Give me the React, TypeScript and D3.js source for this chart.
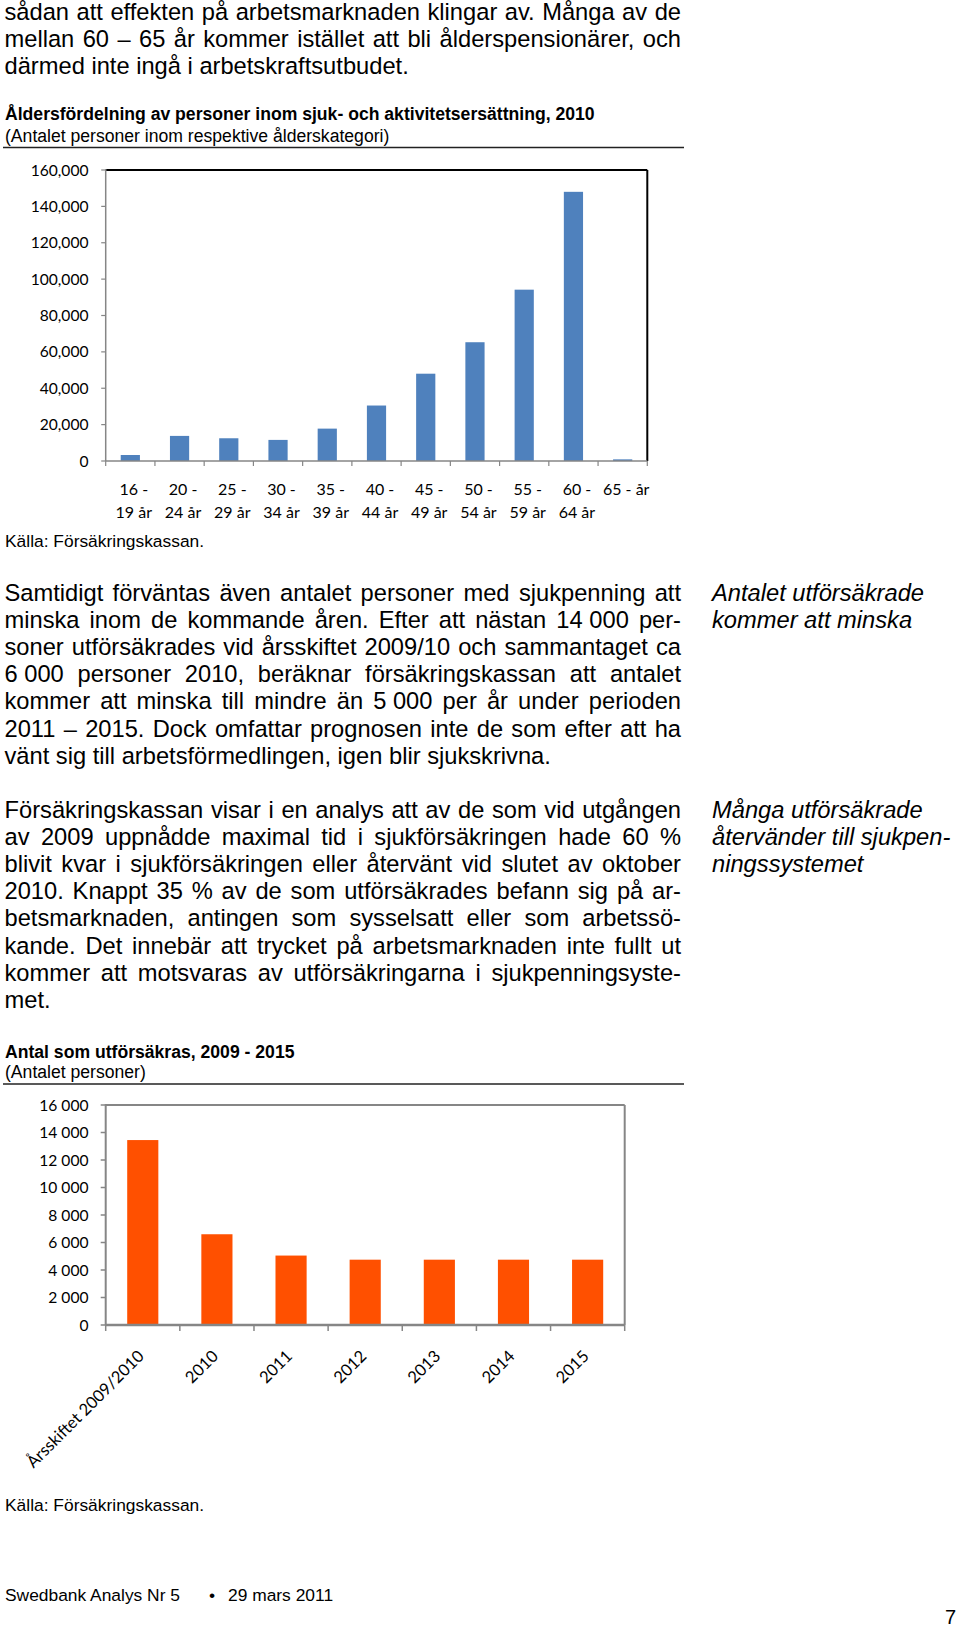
import React from 'react';
import * as d3 from 'd3';

// ---------- Data ----------
const ageCategories = ["16 - 19 år", "20 - 24 år", "25 - 29 år", "30 - 34 år", "35 - 39 år", "40 - 44 år", "45 - 49 år", "50 - 54 år", "55 - 59 år", "60 - 64 år", "65 - år"];
const ageLabelTop = ["16 -", "20 -", "25 -", "30 -", "35 -", "40 -", "45 -", "50 -", "55 -", "60 -", "65 - år"];
const ageLabelBottom = ["19 år", "24 år", "29 år", "34 år", "39 år", "44 år", "49 år", "54 år", "59 år", "64 år", ""];
const ageValues = [3300, 13800, 12500, 11600, 17800, 30500, 48000, 65300, 94200, 148000, 900];
const ageTicks = [0, 20000, 40000, 60000, 80000, 100000, 120000, 140000, 160000];

const yearCategories = ["Årsskiftet 2009/2010", "2010", "2011", "2012", "2013", "2014", "2015"];
const yearValues = [13450, 6600, 5050, 4750, 4750, 4750, 4750];
const yearTicks = [0, 2000, 4000, 6000, 8000, 10000, 12000, 14000, 16000];

const introLines = [
  "sådan att effekten på arbetsmarknaden klingar av. Många av de",
  "mellan 60 – 65 år kommer istället att bli ålderspensionärer, och",
  "därmed inte ingå i arbetskraftsutbudet.",
];
const para1Lines = [
  "Samtidigt förväntas även antalet personer med sjukpenning att",
  "minska inom de kommande åren. Efter att nästan 14\u00a0000 per-",
  "soner utförsäkrades vid årsskiftet 2009/10 och sammantaget ca",
  "6\u00a0000 personer 2010, beräknar försäkringskassan att antalet",
  "kommer att minska till mindre än 5\u00a0000 per år under perioden",
  "2011 – 2015. Dock omfattar prognosen inte de som efter att ha",
  "vänt sig till arbetsförmedlingen, igen blir sjukskrivna.",
];
const para2Lines = [
  "Försäkringskassan visar i en analys att av de som vid utgången",
  "av 2009 uppnådde maximal tid i sjukförsäkringen hade 60 %",
  "blivit kvar i sjukförsäkringen eller återvänt vid slutet av oktober",
  "2010. Knappt 35 % av de som utförsäkrades befann sig på ar-",
  "betsmarknaden, antingen som sysselsatt eller som arbetssö-",
  "kande. Det innebär att trycket på arbetsmarknaden inte fullt ut",
  "kommer att motsvaras av utförsäkringarna i sjukpenningsyste-",
  "met.",
];
const note1Lines = ["Antalet utförsäkrade", "kommer att minska"];
const note2Lines = ["Många utförsäkrade", "återvänder till sjukpen-", "ningssystemet"];

const chart1Title = "Åldersfördelning av personer inom sjuk- och aktivitetsersättning, 2010";
const chart1Subtitle = "(Antalet personer inom respektive ålderskategori)";
const chart2Title = "Antal som utförsäkras, 2009 - 2015";
const chart2Subtitle = "(Antalet personer)";
const sourceText = "Källa: Försäkringskassan.";
const footerLeft = "Swedbank Analys Nr 5";
const footerBullet = "•";
const footerDate = "29 mars 2011";
const pageNumber = "7";

// ---------- Helpers ----------
const SANS = '"Liberation Sans", Arial, Helvetica, sans-serif';
const CHART_FONT = 'Lato, "Open Sans", sans-serif';
const BODY_SIZE = 23.7;
const LINE_H = 27.1;
const TEXT_LEFT = 4.5;
const TEXT_RIGHT = 681;
const TITLE_SIZE = 17.6;

let measureCtx: CanvasRenderingContext2D | null = null;
function measure(t: string, font: string): number {
  if (!measureCtx) measureCtx = document.createElement('canvas').getContext('2d');
  if (!measureCtx) return t.length * 10;
  measureCtx.font = font;
  return measureCtx.measureText(t).width;
}

function ProseLine({ text, x, y, width, justify, size, italic }: any) {
  const font = `${italic ? 'italic ' : ''}${size}px ${SANS}`;
  const common = { fontFamily: SANS, fontSize: size, fontStyle: italic ? 'italic' : 'normal', fill: '#000' };
  if (!justify) return <text x={x} y={y} {...common}>{text}</text>;
  const words = text.split(' ');
  const ws = words.map((w: string) => measure(w, font));
  const total = ws.reduce((a: number, b: number) => a + b, 0);
  const gap = (width - total) / (words.length - 1);
  let cx = x;
  return (
    <g>
      {words.map((w: string, i: number) => {
        const el = <text key={i} x={cx} y={y} {...common}>{w}</text>;
        cx += ws[i] + gap;
        return el;
      })}
    </g>
  );
}

function Paragraph({ lines, x, y0, width, justifyAllButLast, size, italic }: any) {
  return (
    <g>
      {lines.map((l: string, i: number) => (
        <ProseLine key={i} text={l} x={x} y={y0 + i * LINE_H} width={width}
          justify={justifyAllButLast && i < lines.length - 1} size={size} italic={italic} />
      ))}
    </g>
  );
}

// ---------- Chart 1 ----------
function AgeChart() {
  const left = 105.7, right = 647.3, top = 170, bottom = 461;
  const x = d3.scaleBand<string>().domain(ageCategories).range([left, right]).padding(0);
  const y = d3.scaleLinear().domain([0, 160000]).range([bottom, top]);
  const barW = x.bandwidth() * 0.39;
  const fmt = d3.format(',');
  const axisColor = '#868686';
  return (
    <g>
      {ageCategories.map((c, i) => (
        <rect key={c} x={(x(c) as number) + (x.bandwidth() - barW) / 2} y={y(ageValues[i])}
          width={barW} height={bottom - y(ageValues[i])} fill="#4f81bd" />
      ))}
      <line x1={left} x2={right} y1={top} y2={top} stroke="#000" strokeWidth={2} />
      <line x1={right} x2={right} y1={top} y2={bottom} stroke="#000" strokeWidth={2} />
      <line x1={left} x2={left} y1={top - 1} y2={bottom} stroke={axisColor} strokeWidth={1.5} />
      <line x1={left} x2={right} y1={bottom} y2={bottom} stroke={axisColor} strokeWidth={1.5} />
      {ageTicks.map(t => (
        <g key={t}>
          <line x1={left - 4.5} x2={left} y1={y(t)} y2={y(t)} stroke={axisColor} strokeWidth={1.2} />
          <text x={88.5} y={y(t)} dy="0.36em" textAnchor="end" fontFamily={CHART_FONT} fontSize={15.6} fill="#000">{fmt(t)}</text>
        </g>
      ))}
      {ageCategories.map((c) => (
        <line key={'t' + c} x1={x(c) as number} x2={x(c) as number} y1={bottom} y2={bottom + 5} stroke={axisColor} strokeWidth={1.2} />
      ))}
      <line x1={right} x2={right} y1={bottom} y2={bottom + 5} stroke={axisColor} strokeWidth={1.2} />
      {ageCategories.map((c, i) => {
        const cx = (x(c) as number) + x.bandwidth() / 2 + 3.5;
        return (
          <g key={'l' + c}>
            <text x={cx} y={494.5} textAnchor="middle" fontFamily={CHART_FONT} fontSize={16} fill="#000">{ageLabelTop[i]}</text>
            {ageLabelBottom[i] && <text x={cx} y={517.5} textAnchor="middle" fontFamily={CHART_FONT} fontSize={16} fill="#000">{ageLabelBottom[i]}</text>}
          </g>
        );
      })}
    </g>
  );
}

// ---------- Chart 2 ----------
function YearChart() {
  const left = 105.7, right = 624.7, top = 1105, bottom = 1325;
  const x = d3.scaleBand<string>().domain(yearCategories).range([left, right]).padding(0);
  const y = d3.scaleLinear().domain([0, 16000]).range([bottom, top]);
  const barW = x.bandwidth() * 0.42;
  const fmt = d3.formatLocale({ decimal: ',', thousands: ' ', grouping: [3], currency: ['', ''] }).format(',');
  const axisColor = '#868686';
  return (
    <g>
      {yearCategories.map((c, i) => (
        <rect key={c} x={(x(c) as number) + (x.bandwidth() - barW) / 2} y={y(yearValues[i])}
          width={barW} height={bottom - y(yearValues[i])} fill="#ff5000" />
      ))}
      <line x1={left} x2={right} y1={top} y2={top} stroke={axisColor} strokeWidth={2} />
      <line x1={right} x2={right} y1={top} y2={bottom} stroke={axisColor} strokeWidth={2} />
      <line x1={left} x2={left} y1={top - 1} y2={bottom} stroke={axisColor} strokeWidth={2} />
      <line x1={left} x2={right} y1={bottom} y2={bottom} stroke={axisColor} strokeWidth={2.5} />
      {yearTicks.map(t => (
        <g key={t}>
          <line x1={left - 5} x2={left} y1={y(t)} y2={y(t)} stroke={axisColor} strokeWidth={1.5} />
          <text x={88.5} y={y(t)} dy="0.36em" textAnchor="end" fontFamily={CHART_FONT} fontSize={15.6} fill="#000">{fmt(t)}</text>
        </g>
      ))}
      {yearCategories.map(c => (
        <line key={'t' + c} x1={x(c) as number} x2={x(c) as number} y1={bottom} y2={bottom + 6} stroke={axisColor} strokeWidth={1.5} />
      ))}
      <line x1={right} x2={right} y1={bottom} y2={bottom + 6} stroke={axisColor} strokeWidth={1.5} />
      {yearCategories.map(c => {
        const ax = (x(c) as number) + x.bandwidth() / 2 - 6;
        const ay = 1349;
        return (
          <text key={'l' + c} x={ax} y={ay} dy="0.71em" textAnchor="end" transform={`rotate(-45, ${ax}, ${ay})`}
            fontFamily={CHART_FONT} fontSize={16.5} fill="#000">{c}</text>
        );
      })}
    </g>
  );
}

export default function App() {
  const W = TEXT_RIGHT - TEXT_LEFT;
  return (
    <svg width={960} height={1629} viewBox="0 0 960 1629" style={{ position: 'absolute', left: 0, top: 0, background: '#fff' }}>
      <rect x={0} y={0} width={960} height={1629} fill="#fff" />
      <Paragraph lines={introLines} x={TEXT_LEFT} y0={19.5} width={W} justifyAllButLast size={BODY_SIZE} />

      <text x={5} y={120} fontFamily={SANS} fontWeight="bold" fontSize={TITLE_SIZE} fill="#000">{chart1Title}</text>
      <text x={5} y={141.5} fontFamily={SANS} fontSize={TITLE_SIZE} fill="#000">{chart1Subtitle}</text>
      <line x1={3} x2={684} y1={147.5} y2={147.5} stroke="#222" strokeWidth={1.5} />
      <AgeChart />
      <text x={5} y={547} fontFamily={SANS} fontSize={17.4} fill="#000">{sourceText}</text>

      <Paragraph lines={para1Lines} x={TEXT_LEFT} y0={601} width={W} justifyAllButLast size={BODY_SIZE} />
      <Paragraph lines={note1Lines} x={712} y0={601} width={220} size={BODY_SIZE} italic />
      <Paragraph lines={para2Lines} x={TEXT_LEFT} y0={818} width={W} justifyAllButLast size={BODY_SIZE} />
      <Paragraph lines={note2Lines} x={712} y0={818} width={220} size={BODY_SIZE} italic />

      <text x={5} y={1058} fontFamily={SANS} fontWeight="bold" fontSize={TITLE_SIZE} fill="#000">{chart2Title}</text>
      <text x={5} y={1078} fontFamily={SANS} fontSize={TITLE_SIZE} fill="#000">{chart2Subtitle}</text>
      <line x1={3} x2={684} y1={1084} y2={1084} stroke="#222" strokeWidth={1.5} />
      <YearChart />
      <text x={5} y={1511} fontFamily={SANS} fontSize={17.4} fill="#000">{sourceText}</text>

      <text x={5} y={1601} fontFamily={SANS} fontSize={17.4} fill="#000">{footerLeft}</text>
      <text x={212} y={1601} textAnchor="middle" fontFamily={SANS} fontSize={17.4} fill="#000">{footerBullet}</text>
      <text x={228} y={1601} fontFamily={SANS} fontSize={17.4} fill="#000">{footerDate}</text>
      <text x={956} y={1624} textAnchor="end" fontFamily={SANS} fontSize={20} fill="#000">{pageNumber}</text>
    </svg>
  );
}
